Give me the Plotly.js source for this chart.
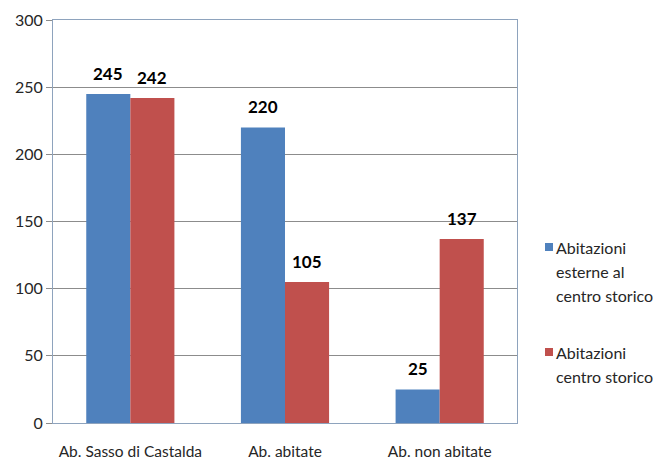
<!DOCTYPE html>
<html>
<head>
<meta charset="utf-8">
<script src="https://cdn.plot.ly/plotly-3.0.1.min.js"></script>
<style>
  html, body { margin: 0; padding: 0; background: #ffffff; }
  #chart { width: 653px; height: 459px; }
</style>
</head>
<body>
<div id="chart"></div>
<script>
// Housing counts for Sasso di Castalda
const categories = ['Ab. Sasso di Castalda', 'Ab. abitate', 'Ab. non abitate'];
const esterne = [245, 220, 25];          // Abitazioni esterne al centro storico
const centroStorico = [242, 105, 137];   // Abitazioni centro storico
const seriesNames = ['Abitazioni esterne al centro storico', 'Abitazioni centro storico'];
const legendLines = [['Abitazioni', 'esterne al', 'centro storico'], ['Abitazioni', 'centro storico']];
const seriesColors = ['#4F81BD', '#C0504D'];
const yTicks = [0, 50, 100, 150, 200, 250, 300];

const font = 'Lato, "Open Sans", sans-serif';
const W = 653, H = 459;
const M = { l: 53, r: 136, t: 20, b: 36 };
const plotW = W - M.l - M.r, plotH = H - M.t - M.b;
const bargap = 0.43;
const barPx = plotW / categories.length * (1 - bargap) / 2;   // width of one bar in px

// pixel -> paper helpers for the hand-placed legend on the right
const px = x => (x - M.l) / plotW;
const py = y => (H - M.b - y) / plotH;

const series = [esterne, centroStorico];
const traces = series.map((vals, i) => ({
  type: 'bar', name: seriesNames[i], x: categories, y: vals,
  marker: { color: seriesColors[i] },
  showlegend: false
}));

const shapes = [], annotations = [];

// value labels above each bar
series.forEach((vals, i) => {
  const shift = (i === 0 ? -1 : 1) * barPx / 2;
  vals.forEach((v, k) => {
    annotations.push({
      xref: 'x', yref: 'y', x: categories[k], y: v, xshift: shift, yshift: 8,
      xanchor: 'center', yanchor: 'bottom', showarrow: false, text: String(v),
      font: { family: font, size: 17, color: '#000000', weight: 'bold' }
    });
  });
});

// legend: colour square + wrapped label, one line per annotation
const legendTop = [247, 352];   // centre of each entry's first line
const lineStep = 24;
legendLines.forEach((lines, i) => {
  const y0 = legendTop[i];
  shapes.push({
    type: 'rect', xref: 'paper', yref: 'paper',
    x0: px(545), x1: px(553), y0: py(y0 + 4), y1: py(y0 - 4),
    fillcolor: seriesColors[i], line: { width: 0 }
  });
  lines.forEach((line, j) => {
    annotations.push({
      xref: 'paper', yref: 'paper', x: px(554), y: py(y0 + j * lineStep),
      xanchor: 'left', yanchor: 'middle', showarrow: false, text: line,
      font: { family: font, size: 16, color: '#262626' }
    });
  });
});

const layout = {
  width: W, height: H,
  margin: M,
  paper_bgcolor: '#ffffff', plot_bgcolor: '#ffffff',
  font: { family: font, size: 16, color: '#262626' },
  barmode: 'group', bargap: bargap, bargroupgap: 0,
  showlegend: false,
  shapes: shapes, annotations: annotations,
  xaxis: {
    type: 'category', showline: true, linecolor: '#8EA3BD', linewidth: 1,
    mirror: true, ticks: '', ticklabelstandoff: 14,
    tickfont: { family: font, size: 15.5, color: '#262626' }
  },
  yaxis: {
    range: [0, 300], tickvals: yTicks, ticktext: yTicks.map(String),
    showgrid: true, gridcolor: '#8C8C8C', gridwidth: 1,
    showline: true, linecolor: '#8EA3BD', linewidth: 1, mirror: true,
    ticks: 'outside', ticklen: 6, tickcolor: '#8C8C8C',
    tickfont: { family: font, size: 16, color: '#262626' },
    zeroline: false
  }
};

Plotly.newPlot('chart', traces, layout, { displayModeBar: false, staticPlot: true });
</script>
</body>
</html>
